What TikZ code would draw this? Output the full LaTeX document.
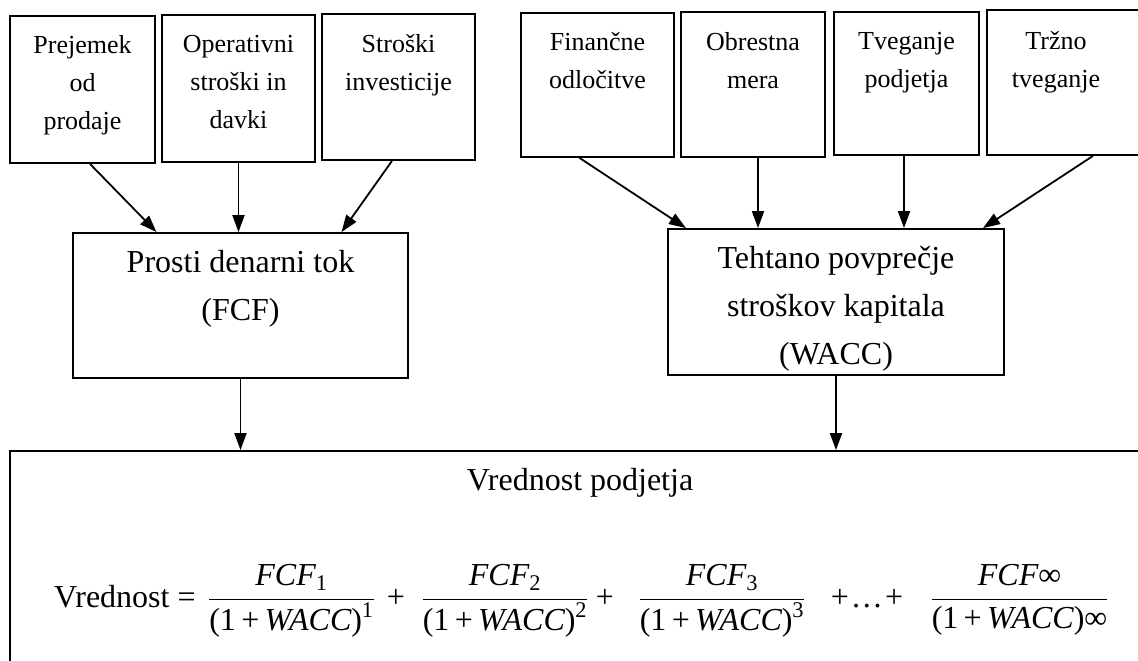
\RequirePackage{fix-cm}
\documentclass[tikz,border=0pt]{standalone}
\usepackage{amsmath}
\usepackage{fontspec}
\setmainfont{Liberation Serif}
\usetikzlibrary{arrows.meta}
\tikzset{
  box/.style={draw, line width=1.8pt, rectangle, inner sep=0pt},
  stxt/.style={font=\fontsize{26}{38}\selectfont, align=center, inner sep=0pt, anchor=north},
  btxt/.style={font=\fontsize{32}{48}\selectfont, align=center, inner sep=0pt, anchor=north},
  ftxt/.style={font=\fontsize{32}{40}\selectfont, inner sep=0pt},
  arr/.style={line width=1.8pt, -{Triangle[length=17pt,width=12pt]}},
}
\newcommand{\den}{\text{(1\,+\,}\textit{WACC}\text{)}}
\begin{document}
\begin{tikzpicture}[x=1pt,y=-1pt]
\useasboundingbox (0,0) rectangle (1138,661);
\clip (0,0) rectangle (1138,661);
\fill[white] (0,0) rectangle (1138,661);

% top boxes
\node[box, minimum width=145pt, minimum height=147pt] (b1) at (82.5,89.5) {};
\node[box, minimum width=153pt, minimum height=147pt] (b2) at (238.5,88.5) {};
\node[box, minimum width=153pt, minimum height=146pt] (b3) at (398.5,87) {};
\node[box, minimum width=153pt, minimum height=144pt] (b4) at (597.5,85) {};
\node[box, minimum width=144pt, minimum height=145pt] (b5) at (753,84.5) {};
\node[box, minimum width=145pt, minimum height=143pt] (b6) at (906.5,83.5) {};
\node[box, minimum width=173pt, minimum height=145pt] (b7) at (1073.5,82.5) {};

\node[stxt] (t1) at (82.5,35) {Prejemek\\od\\prodaje};
\node[stxt] (t2) at (238.5,35) {Operativni\\stroški in\\davki};
\node[stxt] (t3) at (398.5,34) {Stroški\\investicije};
\node[stxt] (t4) at (597.5,32) {Finančne\\odločitve};
\node[stxt] (t5) at (753,32) {Obrestna\\mera};
\node[stxt] (t6) at (906.5,32) {Tveganje\\podjetja};
\node[stxt] (t7) at (1056,31) {Tržno\\tveganje};

% middle boxes
\node[box, minimum width=335pt, minimum height=145pt] (fcf) at (240.5,305.5) {};
\node[box, minimum width=336pt, minimum height=146pt] (wacc) at (836,302) {};
\node[btxt] (tf) at (240.5,250) {Prosti denarni tok\\(FCF)};
\node[btxt] (tw) at (836,246) {Tehtano povprečje\\stroškov kapitala\\(WACC)};

% bottom box
\node[box, minimum width=1290pt, minimum height=449pt] (val) at (655,675.5) {};
\node[ftxt, anchor=base] (tv) at (580,490) {Vrednost podjetja};

% formula
\node[ftxt, anchor=base west] (vl) at (54,607) {Vrednost =};
\node[ftxt, anchor=base] (f1) at (291.5,607) {$\dfrac{\textit{FCF}_{\text{1}}}{\den^{\text{1}}}$};
\node[ftxt, anchor=base] (p1) at (396,607) {+};
\node[ftxt, anchor=base] (f2) at (505,607) {$\dfrac{\textit{FCF}_{\text{2}}}{\den^{\text{2}}}$};
\node[ftxt, anchor=base] (p2) at (605,607) {+};
\node[ftxt, anchor=base] (f3) at (722,607) {$\dfrac{\textit{FCF}_{\text{3}}}{\den^{\text{3}}}$};
\node[ftxt, anchor=base] (p3) at (867,607) {+\kern2pt…\kern2pt+};
\node[ftxt, anchor=base] (f4) at (1019.5,607) {$\dfrac{\textit{FCF}\text{∞}}{\den\text{∞}}$};

% arrows into FCF
\draw[arr] ([xshift=7.5pt]b1.south) -- ([xshift=-84pt]fcf.north);
\draw[arr] (b2.south) -- (b2.south |- fcf.north);
\draw[arr] ([xshift=-6.5pt]b3.south) -- ([xshift=101pt]fcf.north);
% arrows into WACC
\draw[arr] ([xshift=-18pt]b4.south) -- ([xshift=-150pt]wacc.north);
\draw[arr] ([xshift=5pt]b5.south) -- ([xshift=5pt]b5.south |- wacc.north);
\draw[arr] ([xshift=-2.5pt]b6.south) -- ([xshift=-2.5pt]b6.south |- wacc.north);
\draw[arr] ([xshift=19.5pt]b7.south) -- ([xshift=147pt]wacc.north);
% arrows into value box
\draw[arr] (fcf.south) -- (fcf.south |- val.north);
\draw[arr] (wacc.south) -- (wacc.south |- val.north);
\end{tikzpicture}
\end{document}
